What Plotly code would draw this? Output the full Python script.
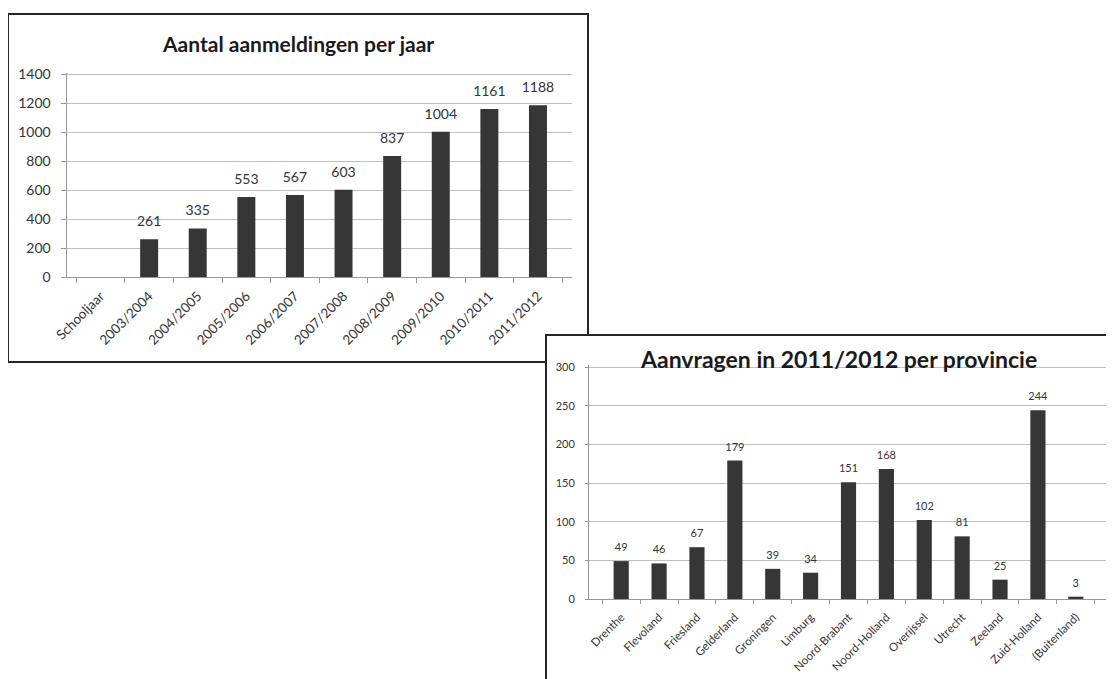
"""Two Excel-style bar charts: aanmeldingen per jaar and aanvragen per provincie."""

import plotly.graph_objects as go

W, H = 1114, 679
OFF = 8  # the page body adds an 8px margin, so pixel targets are shifted by it

# chart 1: aanmeldingen per schooljaar
jaren = ["Schooljaar", "2003/2004", "2004/2005", "2005/2006", "2006/2007",
         "2007/2008", "2008/2009", "2009/2010", "2010/2011", "2011/2012"]
aanmeldingen = [None, 261, 335, 553, 567, 603, 837, 1004, 1161, 1188]

# chart 2: aanvragen 2011/2012 per provincie
provincies = ["Drenthe", "Flevoland", "Friesland", "Gelderland", "Groningen",
              "Limburg", "Noord-Brabant", "Noord-Holland", "Overijssel",
              "Utrecht", "Zeeland", "Zuid-Holland", "(Buitenland)"]
aanvragen = [49, 46, 67, 179, 39, 34, 151, 168, 102, 81, 25, 244, 3]

FONT = "Lato, 'Open Sans', sans-serif"
BAR = "#363636"
GRID = "#bfbfbf"
AXIS = "#979797"
TXT = "#333333"


def px_x(v):
    return (v - OFF) / W


def px_y(v):
    return 1 - (v - OFF) / H


def labels(values):
    return ["" if v is None else str(v) for v in values]


def value_axis_top(bottom_px, top_px, vmax, pad):
    # stretch range a little past the last tick so its gridline is drawn,
    # keeping the last tick at the same pixel row
    scale = (bottom_px - top_px) / vmax
    return top_px - pad * scale, [0, vmax + pad]


fig = go.Figure()

# chart 1 bars + value labels
fig.add_trace(go.Bar(
    x=jaren, y=aanmeldingen, width=0.37,
    marker=dict(color=BAR, line=dict(width=0)),
    xaxis="x", yaxis="y", hoverinfo="x+y",
))
fig.add_trace(go.Scatter(
    x=jaren, y=aanmeldingen, mode="markers+text",
    marker=dict(size=14, opacity=0),
    text=labels(aanmeldingen), textposition="top center",
    textfont=dict(family=FONT, size=14, color=TXT),
    cliponaxis=False, xaxis="x", yaxis="y", hoverinfo="skip",
))

# chart 2 bars + value labels
fig.add_trace(go.Bar(
    x=provincies, y=aanvragen, width=0.4,
    marker=dict(color=BAR, line=dict(width=0)),
    xaxis="x2", yaxis="y2", hoverinfo="x+y",
))
fig.add_trace(go.Scatter(
    x=provincies, y=aanvragen, mode="markers+text",
    marker=dict(size=10, opacity=0),
    text=labels(aanvragen), textposition="top center",
    textfont=dict(family=FONT, size=11, color=TXT),
    cliponaxis=False, xaxis="x2", yaxis="y2", hoverinfo="skip",
))

cat_axis = dict(
    type="category", showgrid=False, showline=True, linecolor=AXIS, linewidth=1,
    ticks="outside", tickson="boundaries", tickcolor=AXIS,
    tickangle=-45, automargin=False, fixedrange=True,
)
val_axis = dict(
    showgrid=True, gridcolor=GRID, gridwidth=1, zeroline=False,
    showline=True, linecolor=AXIS, linewidth=1,
    ticks="outside", tickcolor=AXIS, automargin=False, fixedrange=True,
)

top1, range1 = value_axis_top(277, 74.5, 1400, 8)
top2, range2 = value_axis_top(599, 367, 300, 2)

fig.update_layout(
    width=W, height=H,
    margin=dict(l=0, r=0, t=0, b=0),
    paper_bgcolor="white", plot_bgcolor="rgba(0,0,0,0)",
    showlegend=False,
    font=dict(family=FONT, color=TXT),
    xaxis=dict(cat_axis, domain=[px_x(66.5), px_x(572)], anchor="y",
               ticklen=5, ticklabelstandoff=5,
               tickfont=dict(family=FONT, size=13.5, color=TXT)),
    yaxis=dict(val_axis, domain=[px_y(277), px_y(top1)], anchor="x",
               range=range1, tick0=0, dtick=200, ticklen=5, ticklabelstandoff=7,
               tickfont=dict(family=FONT, size=14, color=TXT)),
    xaxis2=dict(cat_axis, domain=[px_x(589), px_x(1108)], anchor="y2",
                ticklen=4, ticklabelstandoff=6,
                tickfont=dict(family=FONT, size=11.5, color=TXT)),
    yaxis2=dict(val_axis, domain=[px_y(599), px_y(top2)], anchor="x2",
                range=range2, tick0=0, dtick=50, ticklen=3, ticklabelstandoff=8,
                tickfont=dict(family=FONT, size=11, color=TXT)),
    shapes=[
        # frame of chart 1, then chart 2 drawn over its corner
        dict(type="rect", xref="paper", yref="paper", layer="below",
             x0=px_x(8), x1=px_x(588), y0=px_y(362), y1=px_y(14),
             fillcolor="white", line=dict(color="#262626", width=2)),
        dict(type="rect", xref="paper", yref="paper", layer="below",
             x0=px_x(546), x1=px_x(1140), y0=px_y(720), y1=px_y(335),
             fillcolor="white", line=dict(color="#262626", width=2)),
    ],
    annotations=[
        dict(text="<b>Aantal aanmeldingen per jaar</b>", xref="paper", yref="paper",
             x=px_x(298), y=px_y(43), xanchor="center", yanchor="middle",
             showarrow=False, font=dict(family=FONT, size=21, color="#1a1a1a")),
        dict(text="<b>Aanvragen in 2011/2012 per provincie</b>", xref="paper",
             yref="paper", x=px_x(838), y=px_y(359), xanchor="center",
             yanchor="middle", showarrow=False,
             font=dict(family=FONT, size=23, color="#1a1a1a")),
    ],
)

fig.write_html("out.html")
